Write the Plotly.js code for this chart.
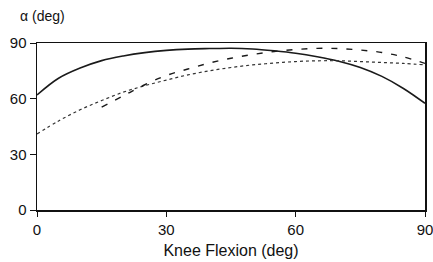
<!DOCTYPE html>
<html><head><meta charset="utf-8">
<script src="https://cdn.plot.ly/plotly-3.0.1.min.js"></script>
<style>html,body{margin:0;padding:0;background:#fff}#c{width:433px;height:262px}</style>
</head><body><div id="c"></div>
<script>
const flexion = [0,5,10,15,20,25,30,35,40,45,50,55,60,65,70,75,80,85,90];
const solidAlpha = [62,71,76.5,80.5,83,84.8,86,86.7,87,87.2,86.8,85.8,84.5,82.6,80.2,76.8,72,65.5,57.5];
const dottedAlpha = [41,48,54,59,63.5,67,70,72.8,75,76.8,78.2,79.2,80,80.4,80.4,80,79.5,79,78.2];
const dashedFlexion = [15,20,25,30,35,40,45,50,55,60,65,70,75,80,85,90];
const dashedAlpha = [55.5,61.5,67.5,72.5,76,79.2,81.8,83.8,85.4,86.5,87.1,87,86.2,84.9,82.5,79];
const xTicks = [0,30,60,90];
const yTicks = [0,30,60,90];

const traces = [
  {x: flexion, y: solidAlpha, mode:'lines', line:{color:'#1a1a1a', width:1.6, shape:'spline'}},
  {x: flexion, y: dottedAlpha, mode:'lines', line:{color:'#333', width:1.2, dash:'dot', shape:'spline'}},
  {x: dashedFlexion, y: dashedAlpha, mode:'lines', line:{color:'#1a1a1a', width:1.4, dash:'6px,9px', shape:'spline'}}
];
const fam = 'Liberation Sans, Arial, sans-serif';
const layout = {
  width:433, height:262,
  margin:{l:37, r:8, t:43, b:52},
  showlegend:false,
  paper_bgcolor:'#fff', plot_bgcolor:'#fff',
  font: {family:fam, size:15, color:'#111'},
  xaxis:{range:[0,90], tickvals:xTicks, ticktext:xTicks.map(String), showgrid:false, zeroline:false,
    showline:true, linecolor:'#111', linewidth:1.5, mirror:true, ticks:'outside', ticklen:5, tickcolor:'#111',
    ticklabeloverflow:'allow',
    tickfont:{family:fam, size:15, color:'#111'},
    title:{text:'Knee Flexion (deg)', font:{family:fam, size:16, color:'#111'}, standoff:8}},
  yaxis:{range:[0,90], tickvals:yTicks, ticktext:yTicks.map(String), showgrid:false, zeroline:false,
    showline:true, linecolor:'#111', linewidth:1.5, mirror:true, ticks:'outside', ticklen:6, tickcolor:'#111',
    tickfont:{family:fam, size:15, color:'#111'}},
  annotations:[{text:'α (deg)', xref:'paper', yref:'paper', x:0.015, y:1.16, xanchor:'center', yanchor:'middle',
    showarrow:false, font:{family:fam, size:14, color:'#111'}}]
};
Plotly.newPlot('c', traces, layout, {displayModeBar:false, staticPlot:true});
</script></body></html>
